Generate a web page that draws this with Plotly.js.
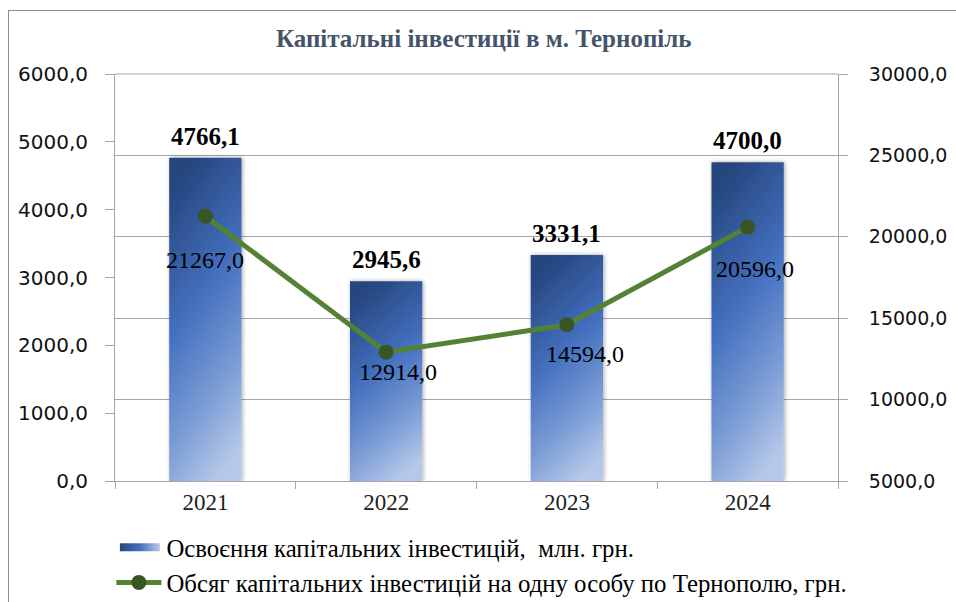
<!DOCTYPE html>
<html>
<head>
<meta charset="utf-8">
<script src="https://cdn.plot.ly/plotly-3.0.1.min.js"></script>
<style>
  html, body { margin: 0; padding: 0; background: #fff; }
  #wrap { position: relative; width: 956px; height: 602px; overflow: hidden; }
  #chart { position: absolute; left: 0; top: 0; width: 956px; height: 602px; }
  #frame { position: absolute; left: 8px; top: 10px; width: 960px; height: 600px;
           border: 1px solid #8c8c8c; pointer-events: none; box-sizing: border-box; }
</style>
</head>
<body>
<div id="wrap">
  <div id="chart"></div>
  <div id="frame"></div>
</div>
<script>
// ---- data ----
const years = ['2021', '2022', '2023', '2024'];
const investments = [4766.1, 2945.6, 3331.1, 4700.0];      // млн. грн.
const perCapita = [21267.0, 12914.0, 14594.0, 20596.0];     // грн. на одну особу
const chartTitle = 'Капітальні інвестиції в м. Тернопіль';
const barName = 'Освоєння капітальних інвестицій,  млн. грн.';
const lineName = 'Обсяг капітальних інвестицій на одну особу по Тернополю, грн.';

// ---- styles ----
const serif = 'Liberation Serif, Times New Roman, serif';
const sans = 'DejaVu Sans, Verdana, sans-serif';
const labelShiftY = [-44, -20, -29, -42];
const labelShiftX = [0, 12, 18, 7];
const fmt = v => v.toFixed(1).replace('.', ',');

const barTrace = {
  type: 'bar', x: years, y: investments, name: barName,
  marker: { color: '#4472c4' },
  width: 0.4,
  cliponaxis: false, hoverinfo: 'skip'
};
const lineTrace = {
  type: 'scatter', mode: 'lines+markers', x: years, y: perCapita, name: lineName,
  yaxis: 'y2',
  line: { color: '#548235', width: 5 },
  marker: { color: '#375623', size: 15 },
  cliponaxis: false, hoverinfo: 'skip'
};

const barLabels = investments.map((v, i) => ({
  x: i, y: v, xref: 'x', yref: 'y', showarrow: false,
  text: '<b>' + fmt(v) + '</b>', yanchor: 'bottom', yshift: 6,
  font: { family: serif, size: 25, color: '#000' }
}));
const lineLabels = perCapita.map((v, i) => ({
  x: i, y: v, xref: 'x', yref: 'y2', showarrow: false,
  text: fmt(v),
  yshift: labelShiftY[i], xshift: labelShiftX[i],
  font: { family: serif, size: 24, color: '#000' }
}));

const layout = {
  width: 956, height: 602,
  margin: { l: 115, r: 118, t: 74, b: 121, autoexpand: false },
  paper_bgcolor: '#fff', plot_bgcolor: '#fff',
  separators: ', ',
  showlegend: true,
  title: {
    text: '<b>' + chartTitle + '</b>',
    font: { family: serif, size: 25, color: '#44546a' },
    x: 0.506, xanchor: 'center', y: 0.937, yanchor: 'middle', xref: 'container', yref: 'container'
  },
  xaxis: {
    type: 'category', categoryorder: 'array', categoryarray: years,
    showline: true, linecolor: '#a6a6a6', linewidth: 1,
    ticks: 'outside', tickson: 'boundaries', ticklen: 7, tickcolor: '#a6a6a6',
    tickangle: 0,
    tickfont: { family: serif, size: 23, color: '#222' },
    showgrid: false, zeroline: false, fixedrange: true
  },
  yaxis: {
    range: [0, 6000], dtick: 1000, tickformat: '.1f',
    showline: true, linecolor: '#a6a6a6', linewidth: 1,
    ticks: 'outside', ticklen: 9, tickcolor: '#a6a6a6', ticklabelstandoff: 13,
    tickfont: { family: sans, size: 20, color: '#111' },
    showgrid: false, zeroline: false, fixedrange: true
  },
  yaxis2: {
    overlaying: 'y', side: 'right',
    range: [5000, 30000], dtick: 5000, tickformat: '.1f',
    showline: true, linecolor: '#a6a6a6', linewidth: 1,
    ticks: 'outside', ticklen: 9, tickcolor: '#a6a6a6', ticklabelstandoff: 17,
    tickfont: { family: sans, size: 19, color: '#111' },
    showgrid: true, gridcolor: '#a6a6a6', gridwidth: 1,
    zeroline: false, fixedrange: true
  },
  shapes: [{
    type: 'line', xref: 'paper', yref: 'paper', x0: 0, x1: 1, y0: 1, y1: 1,
    line: { color: '#a6a6a6', width: 1 }, layer: 'below'
  }],
  legend: {
    orientation: 'v',
    x: -0.005, xanchor: 'left', y: -0.107, yanchor: 'top',
    font: { family: serif, size: 24.8, color: '#000' },
    itemwidth: 45, traceorder: 'normal',
    bgcolor: 'rgba(0,0,0,0)'
  },
  annotations: barLabels.concat(lineLabels),
  bargap: 0.6
};

Plotly.newPlot('chart', [barTrace, lineTrace], layout, { displayModeBar: false, staticPlot: true })
.then(function (gd) {
  const svg = gd.querySelector('.main-svg');
  const NS = 'http://www.w3.org/2000/svg';
  let defs = svg.querySelector('defs');
  if (!defs) { defs = document.createElementNS(NS, 'defs'); svg.insertBefore(defs, svg.firstChild); }
  defs.insertAdjacentHTML('beforeend',
    '<linearGradient id="barGrad" x1="0.35" y1="0" x2="0.65" y2="1">' +
      '<stop offset="0" stop-color="#26467e"/>' +
      '<stop offset="0.42" stop-color="#4470bf"/>' +
      '<stop offset="0.75" stop-color="#7d9ed6"/>' +
      '<stop offset="1" stop-color="#b6c8e9"/>' +
    '</linearGradient>' +
    '<linearGradient id="legGrad" x1="0" y1="0" x2="1" y2="0">' +
      '<stop offset="0" stop-color="#26467e"/>' +
      '<stop offset="0.5" stop-color="#4470bf"/>' +
      '<stop offset="1" stop-color="#b6c8e9"/>' +
    '</linearGradient>' +
    '<filter id="barShadow" x="-20%" y="-5%" width="140%" height="110%">' +
      '<feDropShadow dx="1" dy="0" stdDeviation="2" flood-color="#000" flood-opacity="0.35"/>' +
    '</filter>');
  gd.querySelectorAll('.barlayer .point path').forEach(function (p) {
    p.style.setProperty('fill', 'url(#barGrad)');
    p.setAttribute('filter', 'url(#barShadow)');
  });
  gd.querySelectorAll('.legend .traces').forEach(function (t, i) {
    if (i === 0) {
      const p = t.querySelector('.legendpoints path');
      if (p) {
        p.setAttribute('d', 'M-19,-4H21V4H-19Z');
        p.style.setProperty('fill', 'url(#legGrad)');
        p.style.setProperty('stroke-width', '0');
      }
    }
  });
});
</script>
</body>
</html>
